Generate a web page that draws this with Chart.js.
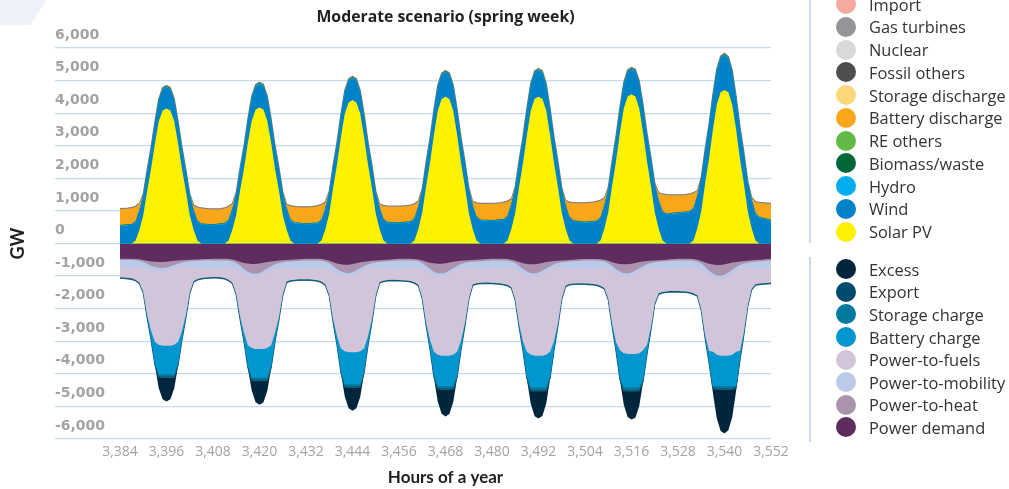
<!DOCTYPE html>
<html>
<head>
<meta charset="utf-8">
<title>Moderate scenario (spring week)</title>
<script src="https://cdn.jsdelivr.net/npm/chart.js@4.4.1/dist/chart.umd.min.js"></script>
<style>
  html, body { margin: 0; padding: 0; background: #ffffff; overflow: hidden; }
  #wrap { position: relative; width: 1009px; height: 489px; overflow: hidden; }
  #corner { position: absolute; left: 0; top: 0; width: 46px; height: 25px; background: #eef2f8;
            clip-path: polygon(0 0, 100% 0, 66% 100%, 0 100%); }
  #chart { position: absolute; left: 0; top: 0; }
  .rule { position: absolute; left: 809px; width: 1.5px; background: #c9dbf0; }
  .item { position: absolute; left: 836px; height: 23px; line-height: 23px; white-space: nowrap;
          font-family: 'Open Sans', sans-serif; font-size: 16.4px; color: #333333; }
  .dot { position: absolute; left: 0; top: 1.5px; width: 20px; height: 20px; border-radius: 50%; }
  .item span { position: absolute; left: 33px; top: 0; }
</style>
</head>
<body>
<div id="wrap">
  <div id="corner"></div>
  <canvas id="chart" width="1009" height="489"></canvas>
  <div class="rule" style="top:0;height:243px"></div>
  <div class="rule" style="top:257px;height:185px"></div>
  <div id="legend"></div>
</div>
<script>
// Hours of the year on the x axis (one point per hour)
const hours = Array.from({ length: 169 }, (_, i) => 3384 + i);
const hourTicks = { min: 3384, max: 3552, step: 12 };
const gwTicks = { min: -6000, max: 6000, step: 1000 };

// ---- Generation (GW), one value per hour ----
const solarPV = [
  0,0,0,0,80,410,870,1610,2280,3060,3750,4080,4140,4080,3750,3060,2280,1610,870,410,80,0,0,0,
  0,0,0,0,80,420,880,1630,2290,3090,3770,4110,4170,4110,3770,3090,2290,1630,880,420,80,0,0,0,
  0,0,0,0,90,440,920,1720,2420,3260,3980,4330,4400,4330,3980,3260,2420,1720,920,440,90,0,0,0,
  0,0,0,0,90,450,950,1760,2480,3330,4070,4430,4500,4430,4070,3330,2480,1760,950,450,90,0,0,0,
  0,0,0,0,90,450,940,1750,2470,3320,4070,4440,4500,4440,4070,3320,2470,1750,940,450,90,0,0,0,
  0,0,0,0,90,460,960,1780,2520,3390,4140,4510,4580,4510,4140,3390,2520,1780,960,460,90,0,0,0,
  0,0,0,0,90,470,990,1840,2590,3490,4260,4640,4710,4640,4260,3490,2590,1840,990,470,90,0,0,0,
  0
];
const wind = [
  530,540,550,560,570,580,590,600,610,620,630,640,650,642,633,625,617,608,600,592,583,575,567,558,
  550,564,578,593,607,621,635,649,663,678,692,706,720,708,697,685,673,662,650,638,627,615,603,592,
  580,588,595,603,610,618,625,633,640,648,655,663,670,665,660,655,650,645,640,635,630,625,620,615,
  610,622,633,645,657,668,680,692,703,715,727,738,750,744,738,733,727,721,715,709,703,698,692,686,
  680,691,702,713,723,734,745,756,767,778,788,799,810,795,780,765,750,735,720,705,690,675,660,645,
  630,641,653,664,675,686,698,709,720,731,743,754,765,778,791,804,817,830,843,856,868,881,894,907,
  920,932,944,956,968,980,993,1005,1017,1029,1041,1053,1065,1034,1003,971,940,909,878,846,815,784,753,721,
  690
];
const hydro = [
  25,25,25,25,25,25,25,25,25,25,25,25,25,25,25,25,25,25,25,25,25,25,25,25,
  25,25,25,25,25,25,25,25,25,25,25,25,25,25,25,25,25,25,25,25,25,25,25,25,
  25,25,25,25,25,25,25,25,25,25,25,25,25,25,25,25,25,25,25,25,25,25,25,25,
  25,25,25,25,25,25,25,25,25,25,25,25,25,25,25,25,25,25,25,25,25,25,25,25,
  25,25,25,25,25,25,25,25,25,25,25,25,25,25,25,25,25,25,25,25,25,25,25,25,
  25,25,25,25,25,25,25,25,25,25,25,25,25,25,25,25,25,25,25,25,25,25,25,25,
  25,25,25,25,25,25,25,25,25,25,25,25,25,25,25,25,25,25,25,25,25,25,25,25,
  25
];
const biomass = [
  15,15,15,15,15,15,15,15,15,15,15,15,15,15,15,15,15,15,15,15,15,15,15,15,
  15,15,15,15,15,15,15,15,15,15,15,15,15,15,15,15,15,15,15,15,15,15,15,15,
  15,15,15,15,15,15,15,15,15,15,15,15,15,15,15,15,15,15,15,15,15,15,15,15,
  15,15,15,15,15,15,15,15,15,15,15,15,15,15,15,15,15,15,15,15,15,15,15,15,
  15,15,15,15,15,15,15,15,15,15,15,15,15,15,15,15,15,15,15,15,15,15,15,15,
  15,15,15,15,15,15,15,15,15,15,15,15,15,15,15,15,15,15,15,15,15,15,15,15,
  15,15,15,15,15,15,15,15,15,15,15,15,15,15,15,15,15,15,15,15,15,15,15,15,
  15
];
const batteryDischarge = [
  477,475,475,480,430,180,0,0,0,0,0,0,0,0,0,0,0,0,0,118,397,455,448,447,
  450,436,432,437,393,129,0,0,0,0,0,0,0,0,0,0,0,0,0,82,393,465,467,473,
  485,482,485,497,440,162,0,0,0,0,0,0,0,0,0,0,0,0,0,75,390,465,465,470,
  480,473,472,475,413,122,0,0,0,0,0,0,0,0,0,0,0,0,0,71,397,477,478,484,
  495,489,488,497,427,126,0,0,0,0,0,0,0,0,0,0,0,0,0,105,430,520,530,545,
  565,559,557,566,505,194,0,0,0,0,0,0,0,0,0,0,0,0,0,184,502,559,536,523,
  510,503,496,504,442,110,0,0,0,0,0,0,0,0,0,0,0,0,0,44,315,416,437,459,
  480
];
const gasTurbines = [
  20,20,20,20,20,20,20,20,20,20,20,20,20,20,20,20,20,20,20,20,20,20,20,20,
  20,20,20,20,20,20,20,20,20,20,20,20,20,20,20,20,20,20,20,20,20,20,20,20,
  20,20,20,20,20,20,20,20,20,20,20,20,20,20,20,20,20,20,20,20,20,20,20,20,
  20,20,20,20,20,20,20,20,20,20,20,20,20,20,20,20,20,20,20,20,20,20,20,20,
  20,20,20,20,20,20,20,20,20,20,20,20,20,20,20,20,20,20,20,20,20,20,20,20,
  20,20,20,20,20,20,20,20,20,20,20,20,20,20,20,20,20,20,20,20,20,20,20,20,
  20,20,20,20,20,20,20,20,20,20,20,20,20,20,20,20,20,20,20,20,20,20,20,20,
  20
];

// ---- Uses (GW, negative), one value per hour ----
const powerDemand = [
  -470,-470,-470,-470,-475,-485,-505,-530,-550,-562,-570,-570,-560,-545,-530,-520,-512,-505,-500,-495,-490,-485,-480,-475,
  -470,-470,-470,-470,-478,-494,-526,-566,-598,-617,-630,-630,-614,-590,-566,-550,-537,-526,-518,-510,-502,-494,-486,-478,
  -470,-470,-470,-470,-479,-497,-533,-578,-614,-636,-650,-650,-632,-605,-578,-560,-546,-533,-524,-515,-506,-497,-488,-479,
  -470,-470,-470,-470,-478,-493,-523,-560,-590,-608,-620,-620,-605,-583,-560,-545,-533,-523,-515,-508,-500,-493,-485,-478,
  -470,-470,-470,-470,-479,-496,-530,-572,-606,-626,-640,-640,-623,-598,-572,-555,-541,-530,-521,-513,-504,-496,-487,-479,
  -475,-475,-475,-475,-483,-500,-533,-575,-608,-628,-640,-640,-623,-598,-572,-555,-541,-530,-521,-513,-504,-496,-487,-479,
  -470,-470,-470,-470,-480,-499,-537,-584,-622,-645,-660,-660,-641,-613,-584,-565,-550,-537,-527,-518,-508,-499,-489,-480,
  -475
];
const powerToHeat = [
  -40,-40,-40,-40,-40,-45,-60,-90,-130,-160,-175,-180,-175,-160,-130,-100,-75,-55,-45,-40,-40,-40,-40,-40,
  -50,-50,-50,-50,-50,-55,-75,-120,-190,-250,-290,-300,-290,-250,-200,-145,-100,-70,-55,-50,-50,-50,-50,-50,
  -50,-50,-50,-50,-50,-55,-70,-110,-170,-220,-250,-260,-250,-220,-180,-130,-90,-65,-55,-50,-50,-50,-50,-50,
  -50,-50,-50,-50,-50,-55,-75,-120,-190,-250,-290,-300,-290,-250,-200,-145,-100,-70,-55,-50,-50,-50,-50,-50,
  -50,-50,-50,-50,-50,-55,-72,-115,-180,-235,-270,-280,-270,-235,-190,-140,-95,-68,-55,-50,-50,-50,-50,-50,
  -50,-50,-50,-50,-50,-55,-72,-115,-180,-235,-270,-280,-270,-235,-190,-140,-95,-68,-55,-50,-50,-50,-50,-50,
  -50,-50,-50,-50,-50,-58,-80,-130,-210,-280,-320,-330,-320,-280,-220,-160,-110,-75,-58,-50,-50,-50,-50,-50,
  -50
];
const powerToMobility = [
  -250,-250,-245,-240,-230,-215,-190,-160,-130,-110,-100,-95,-95,-95,-100,-110,-125,-150,-175,-200,-225,-240,-250,-250,
  -250,-250,-245,-240,-230,-215,-190,-160,-130,-110,-100,-95,-95,-95,-100,-110,-125,-150,-175,-200,-225,-240,-250,-250,
  -250,-250,-245,-240,-230,-215,-190,-160,-130,-110,-100,-95,-95,-95,-100,-110,-125,-150,-175,-200,-225,-240,-250,-250,
  -250,-250,-245,-240,-230,-215,-190,-160,-130,-110,-100,-95,-95,-95,-100,-110,-125,-150,-175,-200,-225,-240,-250,-250,
  -250,-250,-245,-240,-230,-215,-190,-160,-130,-110,-100,-95,-95,-95,-100,-110,-125,-150,-175,-200,-225,-240,-250,-250,
  -250,-250,-245,-240,-230,-215,-190,-160,-130,-110,-100,-95,-95,-95,-100,-110,-125,-150,-175,-200,-225,-240,-250,-250,
  -250,-250,-245,-240,-230,-215,-190,-160,-130,-110,-100,-95,-95,-95,-100,-110,-125,-150,-175,-200,-225,-240,-250,-250,
  -250
];
const powerToFuels = [
  -277,-285,-300,-320,-365,-455,-735,-1400,-1860,-2188,-2265,-2295,-2310,-2340,-2350,-2290,-1965,-1478,-780,-415,-335,-295,-275,-270,
  -260,-260,-275,-300,-352,-436,-754,-1403,-1815,-2143,-2190,-2215,-2241,-2305,-2344,-2315,-1981,-1516,-812,-410,-353,-326,-314,-317,
  -325,-330,-345,-370,-411,-483,-782,-1475,-1926,-2254,-2310,-2335,-2363,-2420,-2452,-2420,-2089,-1587,-836,-415,-359,-333,-327,-336,
  -350,-355,-370,-390,-432,-507,-872,-1582,-2053,-2357,-2405,-2430,-2455,-2517,-2555,-2525,-2229,-1708,-950,-502,-445,-422,-415,-422,
  -435,-440,-455,-480,-511,-574,-923,-1629,-2101,-2354,-2405,-2430,-2457,-2517,-2553,-2520,-2239,-1707,-939,-527,-461,-439,-433,-441,
  -450,-455,-470,-495,-537,-600,-893,-1609,-2102,-2302,-2355,-2380,-2407,-2467,-2503,-2470,-2356,-1832,-1082,-767,-711,-684,-673,-681,
  -690,-695,-705,-730,-770,-818,-1206,-1941,-2333,-2290,-2335,-2360,-2389,-2457,-2511,-2490,-2510,-1957,-1138,-622,-467,-441,-431,-430,
  -425
];
const batteryCharge = [
  0,0,0,0,0,0,0,-60,-250,-650,-900,-870,-870,-870,-900,-655,-250,-60,0,0,0,0,0,0,
  0,0,0,0,0,0,0,-60,-250,-638,-900,-870,-870,-870,-900,-645,-250,-60,0,0,0,0,0,0,
  0,0,0,0,0,0,0,-60,-250,-678,-1010,-980,-980,-980,-1010,-685,-250,-60,0,0,0,0,0,0,
  0,0,0,0,0,0,0,-60,-250,-710,-955,-925,-925,-925,-955,-728,-250,-60,0,0,0,0,0,0,
  0,0,0,0,0,0,0,-60,-250,-763,-1005,-975,-975,-975,-1005,-750,-250,-60,0,0,0,0,0,0,
  0,0,0,0,0,0,0,-60,-250,-836,-1055,-1025,-1025,-1025,-1055,-909,-250,-60,0,0,0,0,0,0,
  0,0,0,0,0,0,0,-60,-302,-1045,-955,-925,-925,-925,-955,-1045,-225,-60,0,0,0,0,0,0,
  0
];
const storageCharge = [
  0,0,0,0,0,0,0,0,0,-20,-60,-70,-70,-70,-60,-20,0,0,0,0,0,0,0,0,
  0,0,0,0,0,0,0,0,0,-20,-60,-70,-70,-70,-60,-20,0,0,0,0,0,0,0,0,
  0,0,0,0,0,0,0,0,0,-20,-55,-70,-70,-70,-55,-20,0,0,0,0,0,0,0,0,
  0,0,0,0,0,0,0,0,0,-20,-65,-75,-75,-75,-65,-20,0,0,0,0,0,0,0,0,
  0,0,0,0,0,0,0,0,0,-20,-65,-75,-75,-75,-65,-20,0,0,0,0,0,0,0,0,
  0,0,0,0,0,0,0,0,0,-20,-65,-75,-75,-75,-65,-20,0,0,0,0,0,0,0,0,
  0,0,0,0,0,0,0,0,-20,-40,-75,-80,-80,-80,-75,-30,-20,0,0,0,0,0,0,0,
  0
];
const exportFlow = [
  -30,-30,-30,-30,-30,-30,-30,-30,-30,-30,-30,-30,-30,-30,-30,-30,-30,-30,-30,-30,-30,-30,-30,-30,
  -30,-30,-30,-30,-30,-30,-30,-30,-30,-30,-30,-30,-30,-30,-30,-30,-30,-30,-30,-30,-30,-30,-30,-30,
  -30,-30,-30,-30,-30,-30,-30,-30,-30,-30,-30,-30,-30,-30,-30,-30,-30,-30,-30,-30,-30,-30,-30,-30,
  -30,-30,-30,-30,-30,-30,-30,-30,-30,-30,-30,-30,-30,-30,-30,-30,-30,-30,-30,-30,-30,-30,-30,-30,
  -30,-30,-30,-30,-30,-30,-30,-30,-30,-30,-30,-30,-30,-30,-30,-30,-30,-30,-30,-30,-30,-30,-30,-30,
  -30,-30,-30,-30,-30,-30,-30,-30,-30,-30,-30,-30,-30,-30,-30,-30,-30,-30,-30,-30,-30,-30,-30,-30,
  -30,-30,-30,-30,-30,-30,-30,-30,-30,-30,-30,-30,-30,-30,-30,-30,-30,-30,-30,-30,-30,-30,-30,-30,
  -30
];
const excess = [
  0,0,0,0,0,0,0,0,0,-20,-340,-670,-740,-672,-343,-20,0,0,0,0,0,0,0,0,
  0,0,0,0,0,0,0,0,0,-20,-322,-666,-740,-668,-327,-20,0,0,0,0,0,0,0,0,
  0,0,0,0,0,0,0,0,0,-20,-290,-633,-710,-635,-295,-20,0,0,0,0,0,0,0,0,
  0,0,0,0,0,0,0,0,0,-20,-392,-753,-835,-759,-403,-20,0,0,0,0,0,0,0,0,
  0,0,0,0,0,0,0,0,0,-20,-403,-774,-845,-770,-395,-20,0,0,0,0,0,0,0,0,
  0,0,0,0,0,0,0,0,0,-20,-428,-799,-880,-823,-476,-20,0,0,0,0,0,0,0,0,
  0,0,0,0,0,0,0,0,-20,-139,-886,-1273,-1355,-1254,-848,-91,-20,0,0,0,0,0,0,0,
  0
];

// Legend entries, outermost layer first
const supplyLegend = [
  ['Import', '#f5a99f'], ['Gas turbines', '#939598'], ['Nuclear', '#d9d9db'],
  ['Fossil others', '#4d4e50'], ['Storage discharge', '#fdd878'], ['Battery discharge', '#f9a61a'],
  ['RE others', '#63b946'], ['Biomass/waste', '#006838'], ['Hydro', '#00aeef'],
  ['Wind', '#0082c8'], ['Solar PV', '#fff200']
];
const demandLegend = [
  ['Excess', '#00263d'], ['Export', '#004a6c'], ['Storage charge', '#00799f'],
  ['Battery charge', '#0096cf'], ['Power-to-fuels', '#d3c5d9'], ['Power-to-mobility', '#bacae8'],
  ['Power-to-heat', '#ab92ad'], ['Power demand', '#5e2c5f']
];
const colorOf = Object.fromEntries([...supplyLegend, ...demandLegend]);

// Stack order: innermost layer first
const supplyStack = [
  ['Solar PV', solarPV], ['Wind', wind], ['Hydro', hydro], ['Biomass/waste', biomass],
  ['Battery discharge', batteryDischarge], ['Gas turbines', gasTurbines]
];
const demandStack = [
  ['Power demand', powerDemand], ['Power-to-heat', powerToHeat], ['Power-to-mobility', powerToMobility],
  ['Power-to-fuels', powerToFuels], ['Battery charge', batteryCharge], ['Storage charge', storageCharge],
  ['Export', exportFlow], ['Excess', excess]
];
const edgeOf = { 'Gas turbines': '#877a6e', 'Export': '#1d5c72' };

function makeDataset([name, values], stack) {
  const edge = edgeOf[name];
  return {
    label: name, data: values, stack: stack,
    backgroundColor: colorOf[name],
    borderColor: edge || colorOf[name],
    borderWidth: edge ? 1.2 : 0,
    fill: 'origin', pointRadius: 0, tension: 0
  };
}

// Legend markup built from the entries above
const legendEl = document.getElementById('legend');
function addLegend(entries, firstCenter, pitch) {
  entries.forEach(([name, color], i) => {
    const row = document.createElement('div');
    row.className = 'item';
    row.style.top = (firstCenter + i * pitch - 11.5) + 'px';
    row.innerHTML = '<div class="dot" style="background:' + color + '"></div><span>' + name + '</span>';
    legendEl.appendChild(row);
  });
}
addLegend(supplyLegend, 4, 22.77);
addLegend(demandLegend, 269.2, 22.6);

const unitLabel = {
  id: 'unitLabel',
  afterDraw(chart) {
    const { ctx, chartArea } = chart;
    ctx.save();
    ctx.translate(18.5, (chartArea.top + chartArea.bottom) / 2);
    ctx.rotate(-Math.PI / 2);
    ctx.font = 'bold 18px Lato';
    ctx.fillStyle = '#231f20';
    ctx.textAlign = 'center';
    ctx.textBaseline = 'middle';
    ctx.fillText('GW', 0, 0);
    ctx.restore();
  }
};

const fmt = v => Number(v).toLocaleString('en-US');

new Chart(document.getElementById('chart'), {
  type: 'line',
  data: {
    labels: hours,
    datasets: [
      ...supplyStack.map(s => makeDataset(s, 'supply')),
      ...demandStack.map(s => makeDataset(s, 'use'))
    ]
  },
  options: {
    responsive: false,
    animation: false,
    devicePixelRatio: 1,
    layout: { padding: { left: 55, right: 238, top: 0, bottom: 0 } },
    plugins: {
      legend: { display: false },
      tooltip: { enabled: false },
      title: {
        display: true, text: 'Moderate scenario (spring week)', fullSize: false,
        color: '#231f20', font: { family: 'Open Sans', weight: 'bold', size: 15.8 },
        padding: { top: 8.5, bottom: 20.5 }
      }
    },
    scales: {
      x: {
        type: 'linear', min: hourTicks.min, max: hourTicks.max,
        afterFit: s => { s.height = 50; },
        border: { display: false },
        grid: { display: false, drawTicks: false },
        ticks: {
          stepSize: hourTicks.step, padding: 5, autoSkip: false, maxRotation: 0,
          color: '#a3a3a3', font: { family: 'Open Sans', size: 14 }, callback: fmt
        },
        title: {
          display: true, text: 'Hours of a year', color: '#231f20',
          font: { family: 'Lato', weight: 'bold', size: 17 }, padding: { top: 0, bottom: 1.5 }
        }
      },
      y: {
        stacked: true, min: gwTicks.min, max: gwTicks.max,
        afterFit: s => { s.width = 65; },
        border: { display: false },
        grid: { color: '#c8daf0', lineWidth: 1.2, drawTicks: true, tickLength: 65 },
        ticks: {
          stepSize: gwTicks.step, crossAlign: 'far', padding: 0, labelOffset: -13,
          color: '#a3a3a3', font: { family: 'DejaVu Sans', weight: 'bold', size: 14 }, callback: fmt
        }
      }
    }
  },
  plugins: [unitLabel]
});
</script>
</body>
</html>
